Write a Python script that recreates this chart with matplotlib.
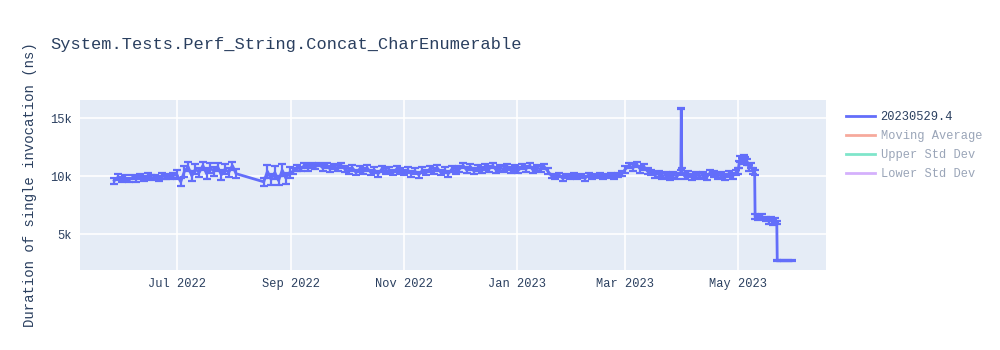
import matplotlib
matplotlib.use("Agg")
import matplotlib.pyplot as plt
import matplotlib.dates as mdates
from matplotlib.lines import Line2D
import pandas as pd

title = "System.Tests.Perf_String.Concat_CharEnumerable"
y_label = "Duration of single invocation (ns)"
legend_names = ["20230529.4", "Moving Average", "Upper Std Dev", "Lower Std Dev"]
legend_colors = ["#636efa", "#EF553B", "#00cc96", "#ab63fa"]

dates = [
    # May-Jun 2022
    "2022-05-28", "2022-05-30", "2022-06-01", "2022-06-03", "2022-06-05", "2022-06-07",
    "2022-06-09", "2022-06-11", "2022-06-13", "2022-06-15", "2022-06-17", "2022-06-19",
    "2022-06-21", "2022-06-23", "2022-06-25", "2022-06-27", "2022-06-29",
    # Jul 2022
    "2022-07-01", "2022-07-03", "2022-07-05", "2022-07-07", "2022-07-09", "2022-07-11",
    "2022-07-13", "2022-07-15", "2022-07-17", "2022-07-19", "2022-07-21", "2022-07-23",
    "2022-07-25", "2022-07-27", "2022-07-29", "2022-07-31", "2022-08-02",
    # late Aug 2022
    "2022-08-17", "2022-08-19", "2022-08-21", "2022-08-23", "2022-08-25", "2022-08-27",
    "2022-08-29", "2022-08-31",
    # Sep 2022
    "2022-09-02", "2022-09-04", "2022-09-06", "2022-09-08", "2022-09-10", "2022-09-12",
    "2022-09-14", "2022-09-16", "2022-09-18", "2022-09-20", "2022-09-22", "2022-09-24",
    "2022-09-26", "2022-09-28", "2022-09-30",
    # Oct 2022
    "2022-10-02", "2022-10-04", "2022-10-06", "2022-10-08", "2022-10-10", "2022-10-12",
    "2022-10-14", "2022-10-16", "2022-10-18", "2022-10-20", "2022-10-22", "2022-10-24",
    "2022-10-26", "2022-10-28", "2022-10-30",
    # Nov 2022
    "2022-11-01", "2022-11-03", "2022-11-05", "2022-11-07", "2022-11-09", "2022-11-11",
    "2022-11-13", "2022-11-15", "2022-11-17", "2022-11-19", "2022-11-21", "2022-11-23",
    "2022-11-25", "2022-11-27", "2022-11-29",
    # Dec 2022
    "2022-12-01", "2022-12-03", "2022-12-05", "2022-12-07", "2022-12-09", "2022-12-11",
    "2022-12-13", "2022-12-15", "2022-12-17", "2022-12-19", "2022-12-21", "2022-12-23",
    "2022-12-25", "2022-12-27", "2022-12-29", "2022-12-31",
    # Jan 2023
    "2023-01-02", "2023-01-04", "2023-01-06", "2023-01-08", "2023-01-10", "2023-01-12",
    "2023-01-14", "2023-01-16", "2023-01-18", "2023-01-20", "2023-01-22", "2023-01-24",
    "2023-01-26", "2023-01-28", "2023-01-30",
    # Feb 2023
    "2023-02-01", "2023-02-03", "2023-02-05", "2023-02-07", "2023-02-09", "2023-02-11",
    "2023-02-13", "2023-02-15", "2023-02-17", "2023-02-19", "2023-02-21", "2023-02-23",
    "2023-02-25", "2023-02-27",
    # Mar 2023
    "2023-03-01", "2023-03-03", "2023-03-05", "2023-03-07", "2023-03-09", "2023-03-11",
    "2023-03-13", "2023-03-15", "2023-03-17", "2023-03-19", "2023-03-21", "2023-03-23",
    "2023-03-25", "2023-03-27", "2023-03-29", "2023-03-31 00:00", "2023-03-31 06:00",
    "2023-03-31 12:00",
    # Apr 2023
    "2023-04-02", "2023-04-04", "2023-04-06", "2023-04-08", "2023-04-10", "2023-04-12",
    "2023-04-14", "2023-04-16", "2023-04-18", "2023-04-20", "2023-04-22", "2023-04-24",
    "2023-04-26", "2023-04-28", "2023-04-30",
    # May 2023
    "2023-05-01 00:00", "2023-05-01 12:00", "2023-05-02", "2023-05-03", "2023-05-04",
    "2023-05-05", "2023-05-06", "2023-05-07", "2023-05-08", "2023-05-09",
    "2023-05-10 00:00", "2023-05-10 06:00", "2023-05-12", "2023-05-14", "2023-05-16",
    "2023-05-18", "2023-05-19", "2023-05-20", "2023-05-21", "2023-05-22 00:00",
    "2023-05-22 06:00", "2023-05-24", "2023-05-26", "2023-05-28", "2023-05-30",
]

values = [
    # May-Jun 2022
    9600, 9900, 9700, 9800, 9650, 9900, 9750, 9950, 9800, 10000, 9850, 9900,
    9800, 10000, 9900, 9950, 10050,
    # Jul 2022
    10100, 9500, 10400, 10800, 10000, 10600, 10300, 10900, 10200, 10700, 10400, 10800,
    10100, 10600, 10300, 10900, 10200,
    # late Aug 2022
    9500, 10400, 9700, 10300, 9600, 10500, 9800, 10300,
    # Sep 2022
    10400, 10700, 10600, 10900, 10700, 10900, 10800, 11000, 10700, 10900, 10600, 10800,
    10700, 10900, 10600,
    # Oct 2022
    10400, 10700, 10300, 10600, 10400, 10700, 10300, 10500, 10200, 10600, 10400, 10500,
    10300, 10600, 10400,
    # Nov 2022
    10300, 10500, 10200, 10400, 10100, 10500, 10300, 10600, 10400, 10700, 10300, 10500,
    10200, 10600, 10400,
    # Dec 2022
    10600, 10900, 10500, 10800, 10400, 10700, 10500, 10800, 10600, 10900, 10500, 10700,
    10600, 10800, 10500, 10700,
    # Jan 2023
    10500, 10800, 10600, 10900, 10500, 10700, 10600, 10800, 10400, 10000, 9900, 10100,
    9800, 10000, 9900,
    # Feb 2023
    10100, 9900, 10000, 9800, 10100, 9900, 10000, 10100, 9900, 10000, 10100, 9900,
    10100, 10200,
    # Mar 2023
    10600, 10900, 10700, 11000, 10600, 10800, 10400, 10300, 10100, 10200, 10000, 10100,
    9900, 10100, 10000, 10300, 15800, 10400,
    # Apr 2023
    10000, 10200, 9900, 10100, 10000, 10100, 9900, 10300, 10200, 10000, 10100, 9900,
    10200, 10000, 10300,
    # May 2023
    10400, 11000, 11500, 11300, 11600, 11400, 11200, 10700, 10900, 10400,
    10300, 6500, 6400, 6500, 6300, 6100, 6300, 6000, 6200, 6000,
    2700, 2700, 2700, 2700, 2700,
]

errors = [
    # May-Jun 2022
    250, 250, 200, 250, 200, 200, 250, 200, 200, 250, 200, 200,
    200, 250, 200, 200, 250,
    # Jul 2022
    400, 350, 450, 400, 450, 400, 400, 350, 450, 400, 400, 350,
    450, 400, 400, 350, 400,
    # late Aug 2022
    350, 550, 450, 550, 400, 500, 450, 500,
    # Sep 2022
    250, 250, 200, 200, 250, 200, 200, 150, 250, 200, 250, 200,
    250, 200, 250,
    # Oct 2022
    250, 250, 250, 250, 250, 250, 250, 250, 250, 250, 250, 250,
    250, 250, 250,
    # Nov 2022
    250, 250, 250, 250, 250, 250, 250, 250, 250, 250, 250, 250,
    250, 250, 250,
    # Dec 2022
    250, 200, 250, 250, 250, 250, 250, 250, 250, 200, 250, 250,
    250, 250, 250, 250,
    # Jan 2023
    250, 200, 250, 200, 250, 250, 250, 200, 250, 200, 200, 200,
    200, 200, 200,
    # Feb 2023
    200, 200, 200, 200, 200, 200, 200, 200, 200, 200, 200, 200,
    200, 200,
    # Mar 2023
    300, 250, 300, 200, 300, 250, 250, 250, 250, 250, 250, 250,
    250, 250, 250, 250, 60, 250,
    # Apr 2023
    250, 250, 250, 250, 250, 250, 250, 250, 250, 250, 250, 250,
    250, 250, 250,
    # May 2023
    250, 300, 250, 250, 200, 250, 250, 250, 250, 250,
    200, 200, 200, 200, 200, 200, 200, 200, 200, 150,
    60, 60, 60, 60, 60,
]

x_ticks = ["2022-07-01", "2022-09-01", "2022-11-01", "2023-01-01", "2023-03-01", "2023-05-01"]
y_ticks = [5000, 10000, 15000]
y_tick_labels = ["5k", "10k", "15k"]

FONT = ["Liberation Mono", "DejaVu Sans Mono"]
TEXT = "#2a3f5f"
plt.rcParams["font.family"] = FONT

x = pd.to_datetime(dates, format="mixed")

fig = plt.figure(figsize=(10, 3.5), dpi=100)
ax = fig.add_axes([0.08, 1 - 270 / 350, 0.746, 170 / 350])
ax.set_facecolor("#e5ecf6")
for s in ax.spines.values():
    s.set_visible(False)

ax.errorbar(x, values, yerr=errors, color=legend_colors[0], lw=2, elinewidth=1.6,
            capsize=2.6, capthick=1.6, zorder=3)

ax.set_xlim(pd.Timestamp("2022-05-09 10:00"), pd.Timestamp("2023-06-17 16:00"))
ax.set_ylim(1897, 16552)
ax.set_yticks(y_ticks)
ax.set_yticklabels(y_tick_labels)
ax.set_xticks(pd.to_datetime(x_ticks))
ax.xaxis.set_major_formatter(mdates.DateFormatter("%b %Y"))
ax.grid(True, color="white", lw=1.2, zorder=0)
ax.set_axisbelow(True)
ax.tick_params(length=0, labelsize=8.64, colors=TEXT, pad=6)
ax.set_ylabel(y_label, fontsize=10.08, color=TEXT, labelpad=9)

fig.text(0.05, 1 - 45 / 350, title, fontsize=12.24, color=TEXT, va="center", ha="left")

handles = [Line2D([0], [0], color=c, lw=2, alpha=(1 if i == 0 else 0.5))
           for i, c in enumerate(legend_colors)]
leg = ax.legend(handles, legend_names, loc="upper left", bbox_to_anchor=(1.02, 0.965),
                frameon=False, fontsize=8.64, handlelength=2.4, handletextpad=0.5,
                labelspacing=0.6, borderaxespad=0.0)
for i, t in enumerate(leg.get_texts()):
    t.set_color(TEXT if i == 0 else "#9aa5b8")

fig.savefig("out.png", dpi=100)
